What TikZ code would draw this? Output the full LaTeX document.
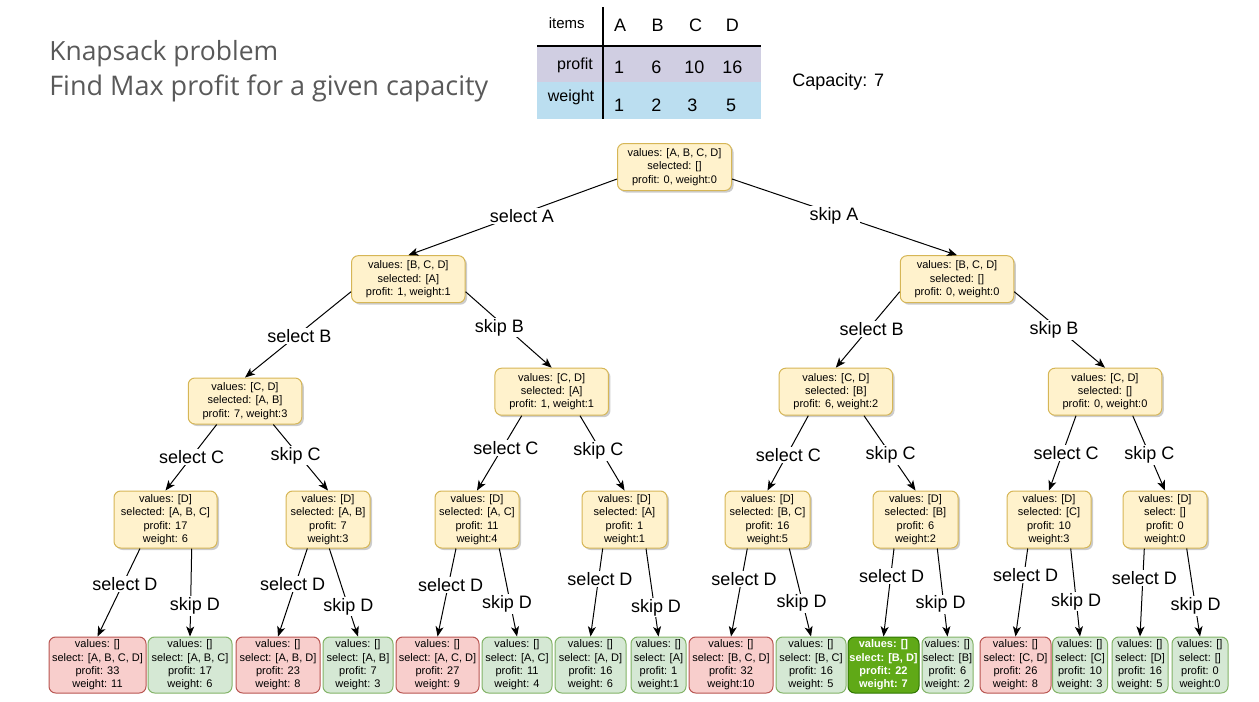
\documentclass[tikz,border=0pt]{standalone}
\usepackage{fontspec}
\setmainfont{Liberation Sans}
\newfontfamily\titlefont{Open Sans}
\usetikzlibrary{arrows.meta,calc,shadows}
\definecolor{ylwF}{HTML}{FFF2CC}
\definecolor{ylwD}{HTML}{D6B656}
\definecolor{redF}{HTML}{F8CECC}
\definecolor{redD}{HTML}{B85450}
\definecolor{grnF}{HTML}{D5E8D4}
\definecolor{grnD}{HTML}{82B366}
\definecolor{dgrF}{HTML}{60A917}
\definecolor{dgrD}{HTML}{2D7600}
\definecolor{profC}{HTML}{D0CEE2}
\definecolor{wtC}{HTML}{BBDEF0}
\definecolor{titleC}{HTML}{595959}
\begin{document}
\begin{tikzpicture}[x=0.75pt,y=-0.75pt,
  bw/.style={minimum width=#1*0.75pt},
  bh/.style={minimum height=#1*0.75pt},
  box/.style={draw, rounded corners=5pt, line width=0.75pt, align=center, inner sep=0pt,
    font=\fontsize{8.25pt}{10pt}\selectfont},
  ybox/.style={box, fill=ylwF, draw=ylwD, bh=47, bw=113.5,
    drop shadow={shadow xshift=1.5pt, shadow yshift=-1.5pt, opacity=0.2, fill=black}},
  ybox3/.style={ybox, bh=57},
  rbox/.style={box, fill=redF, draw=redD, bh=56},
  gbox/.style={box, fill=grnF, draw=grnD, bh=56},
  dbox/.style={box, fill=dgrF, draw=dgrD, bh=56, text=white, font=\fontsize{8.25pt}{10pt}\selectfont\bfseries},
  edge/.style={line width=0.75pt, -{Stealth[length=7.5pt,width=6pt,inset=2pt]}},
  lbl/.style={fill=white, inner sep=1pt, font=\fontsize{13.5pt}{16pt}\selectfont},
  tcell/.style={inner sep=0pt, font=\fontsize{13.5pt}{16pt}\selectfont},
]
\useasboundingbox (0,0) rectangle (1259,701);

% title
\node[anchor=base west, inner sep=0pt, text=titleC, font=\titlefont] (t1) at (49,60) {\resizebox{171.75pt}{!}{Knapsack problem}};
\node[anchor=base west, inner sep=0pt, text=titleC, font=\titlefont] (t2) at (49,95) {\resizebox{329.25pt}{!}{Find Max profit for a given capacity}};

% table
\fill[profC] (537,45.7) rectangle (761,82.3);
\fill[wtC] (537,82.3) rectangle (761,119.3);
\draw[line width=1.5pt] (603,7) -- (603,119.3);
\draw[line width=1.5pt] (537,45.7) -- (761,45.7);
\node[inner sep=0pt, font=\fontsize{11.25pt}{13pt}\selectfont] (hitems) at (566.7,22.7) {items};
\node[tcell] (hA) at (620,25) {A};
\node[tcell] (hB) at (657.7,25) {B};
\node[tcell] (hC) at (695.7,25) {C};
\node[tcell] (hD) at (732.3,25) {D};
\node[inner sep=0pt, font=\fontsize{12pt}{14pt}\selectfont] (hprof) at (575,65) {profit};
\node[inner sep=0pt, font=\fontsize{12pt}{14pt}\selectfont] (hwt) at (571,97.3) {weight};
\node[tcell] (p1) at (619,67.7) {1};
\node[tcell] (p2) at (656.3,67.7) {6};
\node[tcell] (p3) at (694.3,67.7) {10};
\node[tcell] (p4) at (732.3,67.7) {16};
\node[tcell] (w1) at (619,105.7) {1};
\node[tcell] (w2) at (656.3,105.7) {2};
\node[tcell] (w3) at (692.3,105.7) {3};
\node[tcell] (w4) at (731,105.7) {5};
\node[tcell] (cap) at (838.3,81.7) {Capacity: 7};

% tree nodes
\node[ybox, bw=114] (r) at (674.5,167) {values: [A, B, C, D]\\selected: []\\profit: 0, weight:0};
\node[ybox] (a) at (408.3,279.2) {values: [B, C, D]\\selected: [A]\\profit: 1, weight:1};
\node[ybox] (b) at (957,279.2) {values: [B, C, D]\\selected: []\\profit: 0, weight:0};
\node[ybox, bh=46] (aa) at (245,401) {values: [C, D]\\selected: [A, B]\\profit: 7, weight:3};
\node[ybox] (ab) at (551.7,391.7) {values: [C, D]\\selected: [A]\\profit: 1, weight:1};
\node[ybox] (ba) at (835.8,391.7) {values: [C, D]\\selected: [B]\\profit: 6, weight:2};
\node[ybox] (bb) at (1105,391.7) {values: [C, D]\\selected: []\\profit: 0, weight:0};

\node[ybox3, bw=103] (c1) at (165.5,519.5) {values: [D]\\selected: [A, B, C]\\profit: 17\\weight: 6};
\node[ybox3, bw=84] (c2) at (328,519.5) {values: [D]\\selected: [A, B]\\profit: 7\\weight:3};
\node[ybox3, bw=84] (c3) at (477,519.5) {values: [D]\\selected: [A, C]\\profit: 11\\weight:4};
\node[ybox3, bw=85] (c4) at (624.5,519.5) {values: [D]\\selected: [A]\\profit: 1\\weight:1};
\node[ybox3, bw=85] (c5) at (767.5,519.5) {values: [D]\\selected: [B, C]\\profit: 16\\weight:5};
\node[ybox3, bw=85] (c6) at (915.5,519.5) {values: [D]\\selected: [B]\\profit: 6\\weight:2};
\node[ybox3, bw=84] (c7) at (1049,519.5) {values: [D]\\selected: [C]\\profit: 10\\weight:3};
\node[ybox3, bw=84] (c8) at (1165,519.5) {values: [D]\\select: []\\profit: 0\\weight:0};

\node[rbox, bw=97] (d1) at (97.5,665) {values: []\\select: [A, B, C, D]\\profit: 33\\weight: 11};
\node[gbox, bw=84] (d2) at (190,665) {values: []\\select: [A, B, C]\\profit: 17\\weight: 6};
\node[rbox, bw=84] (d3) at (278,665) {values: []\\select: [A, B, D]\\profit: 23\\weight: 8};
\node[gbox, bw=70] (d4) at (358,665) {values: []\\select: [A, B]\\profit: 7\\weight: 3};
\node[rbox, bw=83] (d5) at (437.5,665) {values: []\\select: [A, C, D]\\profit: 27\\weight: 9};
\node[gbox, bw=70] (d6) at (517,665) {values: []\\select: [A, C]\\profit: 11\\weight: 4};
\node[gbox, bw=71] (d7) at (590.5,665) {values: []\\select: [A, D]\\profit: 16\\weight: 6};
\node[gbox, bw=55] (d8) at (658.5,665) {values: []\\select: [A]\\profit: 1\\weight:1};
\node[rbox, bw=84] (d9) at (731,665) {values: []\\select: [B, C, D]\\profit: 32\\weight:10};
\node[gbox, bw=70] (d10) at (811,665) {values: []\\select: [B, C]\\profit: 16\\weight: 5};
\node[dbox, bw=71] (d11) at (883.5,665) {values: []\\select: [B, D]\\profit: 22\\weight: 7};
\node[gbox, bw=51] (d12) at (947.5,665) {values: []\\select: [B]\\profit: 6\\weight: 2};
\node[rbox, bw=71] (d13) at (1015.5,665) {values: []\\select: [C, D]\\profit: 26\\weight: 8};
\node[gbox, bw=55] (d14) at (1080,665) {values: []\\select: [C]\\profit: 10\\weight: 3};
\node[gbox, bw=56] (d15) at (1140,665) {values: []\\select: [D]\\profit: 16\\weight: 5};
\node[gbox, bw=56] (d16) at (1200,665) {values: []\\select: []\\profit: 0\\weight:0};

% edges
\draw[edge] ($(r.west)+(0,12)$) -- (a.north) node[lbl] at (522,216) {select A};
\draw[edge] ($(r.east)+(0,12)$) -- (b.north) node[lbl] at (834,216) {skip A};
\draw[edge] ($(a.west)+(0,12.5)$) -- (aa.north) node[lbl] at (299.3,335.7) {select B};
\draw[edge] ($(a.east)+(0,12.5)$) -- (ab.north) node[lbl] at (499.3,327.7) {skip B};
\draw[edge] ($(b.west)+(0,12.5)$) -- (ba.north) node[lbl] at (871.7,329) {select B};
\draw[edge] ($(b.east)+(0,12.5)$) -- (bb.north) node[lbl] at (1054,330) {skip B};

\draw[edge] ($(aa.south)+(-28.3,0)$) -- (c1.north) node[lbl] at (191.7,456.7) {select C};
\draw[edge] ($(aa.south)+(28.3,0)$) -- (c2.north) node[lbl] at (295.7,455.7) {skip C};
\draw[edge] ($(ab.south)+(-30,0)$) -- (c3.north) node[lbl] at (506,447.7) {select C};
\draw[edge] ($(ab.south)+(28.3,0)$) -- (c4.north) node[lbl] at (598.3,451) {skip C};
\draw[edge] ($(ba.south)+(-27.5,0)$) -- (c5.north) node[lbl] at (788.3,455) {select C};
\draw[edge] ($(ba.south)+(28.2,0)$) -- (c6.north) node[lbl] at (890.7,455) {skip C};
\draw[edge] ($(bb.south)+(-29,0)$) -- (c7.north) node[lbl] at (1066,453.3) {select C};
\draw[edge] ($(bb.south)+(27.7,0)$) -- (c8.north) node[lbl] at (1149.3,455) {skip C};

\draw[edge] ($(c1.south)+(-25.5,0)$) -- (d1.north) node[lbl] at (125,584) {select D};
\draw[edge] ($(c1.south)+(26.2,0)$) -- (d2.north) node[lbl] at (195,606) {skip D};
\draw[edge] ($(c2.south)+(-20.7,0)$) -- (d3.north) node[lbl] at (292.7,584) {select D};
\draw[edge] ($(c2.south)+(1.3,0)$) -- (d4.north) node[lbl] at (348.3,606.7) {skip D};
\draw[edge] ($(c3.south)+(-21,0)$) -- (d5.north) node[lbl] at (450.7,585) {select D};
\draw[edge] ($(c3.south)+(22.3,0)$) -- (d6.north) node[lbl] at (507,604) {skip D};
\draw[edge] ($(c4.south)+(-21.8,0)$) -- (d7.north) node[lbl] at (600,579) {select D};
\draw[edge] ($(c4.south)+(21.5,0)$) -- (d8.north) node[lbl] at (656,607.7) {skip D};
\draw[edge] ($(c5.south)+(-20.2,0)$) -- (d9.north) node[lbl] at (744,579) {select D};
\draw[edge] ($(c5.south)+(21.8,0)$) -- (d10.north) node[lbl] at (801.7,603.3) {skip D};
\draw[edge] ($(c6.south)+(-21.5,0)$) -- (d11.north) node[lbl] at (891.7,575.7) {select D};
\draw[edge] ($(c6.south)+(21.8,0)$) -- (d12.north) node[lbl] at (940.7,604.3) {skip D};
\draw[edge] ($(c7.south)+(-21.3,0)$) -- (d13.north) node[lbl] at (1025.7,575) {select D};
\draw[edge] ($(c7.south)+(21.7,0)$) -- (d14.north) node[lbl] at (1076,601.7) {skip D};
\draw[edge] ($(c8.south)+(-20.7,0)$) -- (d15.north) node[lbl] at (1144.3,577.7) {select D};
\draw[edge] ($(c8.south)+(21.7,0)$) -- (d16.north) node[lbl] at (1195.7,606) {skip D};
\end{tikzpicture}
\end{document}
